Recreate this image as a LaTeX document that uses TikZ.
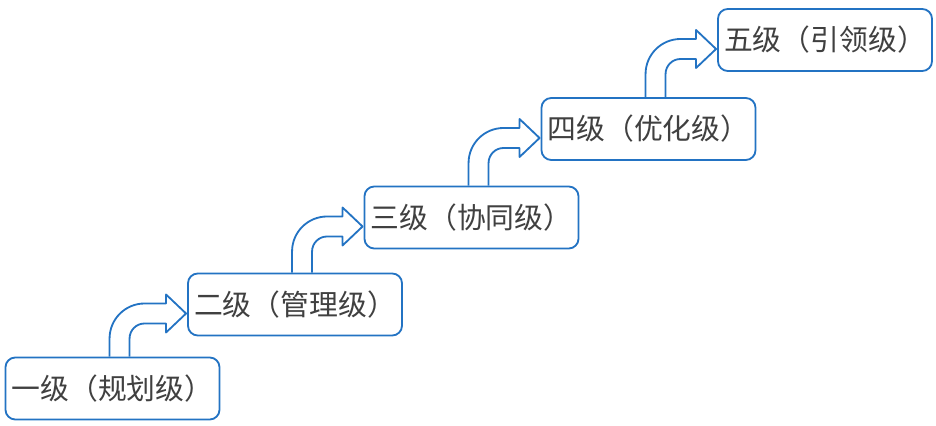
\documentclass[tikz,border=0pt]{standalone}
\usepackage{fontspec}
\newfontfamily\cjk{Noto Sans CJK SC}
\usepackage{xcolor}
\usepackage{tikz}
\usetikzlibrary{positioning, calc}
\definecolor{lineblue}{RGB}{35,115,195}

\begin{document}
\begin{tikzpicture}[x=0.025cm, y=0.025cm]
  \useasboundingbox (0,0) rectangle (936,426);
  \tikzset{
    level/.style={draw=lineblue, line width=1.3pt, rounded corners=7pt, fill=white,
      minimum width=5.35cm, minimum height=1.55cm, inner sep=0pt,
      font=\cjk\fontsize{20.5}{24}\selectfont, text=black!75},
    climb/.style={draw=lineblue, line width=1.3pt, line join=round}
  }
  % Levels, each one a step up and to the right
  \node[level] (L1) at (112.5,37.5) {一级（规划级）};
  \node[level] (L2) at (295,121.5) {二级（管理级）};
  \node[level] (L3) at (471.5,208.5) {三级（协同级）};
  \node[level] (L4) at (648.5,297) {四级（优化级）};
  \node[level] (L5) at (825,386) {五级（引领级）};
  % Bent arrows from one level up to the next
  \foreach \a/\b in {L1/L2, L2/L3, L3/L4, L4/L5} {
    \coordinate (s) at ($(\a.north west)+(105,0)$);
    \coordinate (t) at ($(\b.west)+(-1,-9)$);
    \draw[climb] (s) -- ($(s |- t)+(0,-25)$) arc[start angle=180, end angle=90, radius=35]
      -- ($(t)+(-20,10)$) -- ($(t)+(-20,19)$) -- (t) -- ($(t)+(-20,-19)$)
      -- ($(t)+(-20,-10)$) -- ($(s |- t)+(35,-10)$)
      arc[start angle=90, end angle=180, radius=15] -- ($(s)+(20,0)$);
  }
\end{tikzpicture}
\end{document}
